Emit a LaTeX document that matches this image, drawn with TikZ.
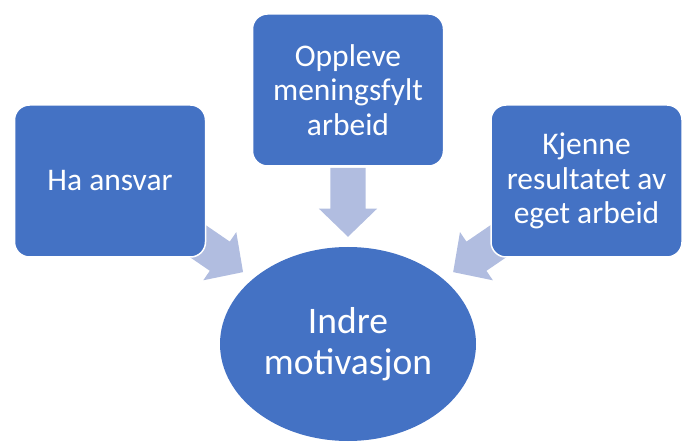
\documentclass[tikz,border=0pt]{standalone}
\usepackage{fontspec}
\setmainfont{Carlito}
\usetikzlibrary{shapes.geometric,shapes.arrows,backgrounds}
\definecolor{boksblaa}{HTML}{4472C4}
\definecolor{pilblaa}{HTML}{B1BDE0}
\tikzset{
    boks/.style={rectangle, rounded corners=15pt, fill=boksblaa, draw=white, line width=1.5pt, text=white,
        minimum width=191pt, minimum height=152pt, align=center, font=\fontsize{31.5}{34.5}\selectfont},
    maal/.style={ellipse, fill=boksblaa, text=white, minimum width=256pt, minimum height=194pt,
        inner sep=0pt, align=center, font=\fontsize{37.5}{41}\selectfont},
    blokkpil/.style={single arrow, fill=pilblaa, minimum height=69pt, inner xsep=0pt, inner ysep=17.5pt,
        single arrow head extend=11.5pt, single arrow tip angle=92, sloped, allow upside down, anchor=tip}
}

\begin{document}
\begin{tikzpicture}[x=1pt, y=1pt]
    \useasboundingbox(0, 0)rectangle(688, 442);
    \node[boks](ansvar)at(110, 261){Ha ansvar};
    \node[boks](mening)at(348, 352){Oppleve\\meningsfylt\\arbeid};
    \node[boks](resultat)at(586.5, 261){Kjenne\\resultatet av\\eget arbeid};
    \node[maal](indre)at(348, 98){Indre\\motivasjon};
    % pilene ligger bak boksene
    \begin{scope}[on background layer]
        \path(ansvar.center)--(indre.center)node[blokkpil, pos=.56]{};
        \path(mening.center)--(indre.center)node[blokkpil, pos=.579]{};
        \path(resultat.center)--(indre.center)node[blokkpil, pos=.56]{};
    \end{scope}
\end{tikzpicture}
\end{document}
